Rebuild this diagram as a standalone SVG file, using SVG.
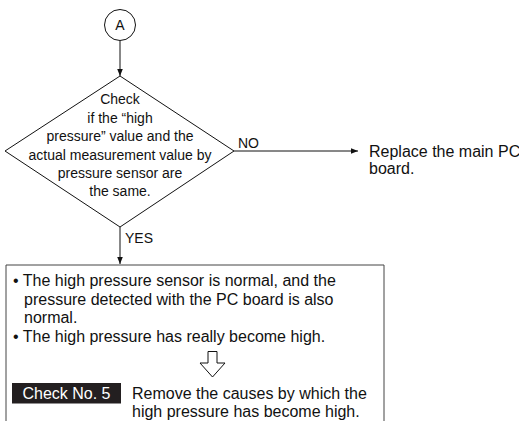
<svg xmlns="http://www.w3.org/2000/svg" width="519" height="421" viewBox="0 0 519 421">
<defs>
<style>
text{font-family:"Liberation Sans",Arial,sans-serif;font-size:14px;fill:#111}
.c{text-anchor:middle}
.b{font-size:16px}
.ln{stroke:#111;stroke-width:1;fill:none}
</style>
<marker id="ah" viewBox="0 0 10 10" refX="10" refY="5" markerWidth="7" markerHeight="7" orient="auto" markerUnits="userSpaceOnUse"><path d="M0,1 L10,5 L0,9 Z" fill="#111"/></marker>
</defs>
<rect width="519" height="421" fill="#fff"/>
<g id="connectors">
<line class="ln" x1="120" y1="41" x2="120" y2="76" marker-end="url(#ah)"/>
<line class="ln" x1="234" y1="151" x2="358" y2="151" marker-end="url(#ah)"/>
<line class="ln" x1="120" y1="227" x2="120" y2="264" marker-end="url(#ah)"/>
<text x="238" y="148">NO</text>
<text x="125" y="243">YES</text>
</g>
<g id="nodeA">
<circle class="ln" cx="120" cy="25" r="15.5"/>
<text class="c" x="120" y="30">A</text>
</g>
<g id="decision">
<polygon class="ln" points="120,76 234,151 120,227 5,151"/>
<text class="c" x="120" y="104">Check</text>
<text class="c" x="120" y="122.5">if the “high</text>
<text class="c" x="120" y="141">pressure” value and the</text>
<text class="c" x="120" y="159.5">actual measurement value by</text>
<text class="c" x="120" y="178">pressure sensor are</text>
<text class="c" x="120" y="196">the same.</text>
</g>
<g id="replace">
<text class="b" x="369" y="157">Replace the main PC</text>
<text class="b" x="369" y="174">board.</text>
</g>
<g id="result">
<path d="M6,422 V265 H384 V422" stroke="#444" stroke-width="1" fill="none"/>
<text class="b" x="13" y="286">• The high pressure sensor is normal, and the</text>
<text class="b" x="24" y="304.5">pressure detected with the PC board is also</text>
<text class="b" x="24" y="323">normal.</text>
<text class="b" x="13" y="341.5">• The high pressure has really become high.</text>
<polygon points="208,351.5 217,351.5 217,363 225,363 212.5,377 200,363 208,363" fill="#fff" stroke="#111" stroke-width="1"/>
<rect x="12" y="383" width="109" height="20.5" fill="#231f20"/>
<text class="c b" x="66.5" y="399" style="fill:#fff">Check No. 5</text>
<text class="b" x="132" y="398.5">Remove the causes by which the</text>
<text class="b" x="132" y="416.5">high pressure has become high.</text>
</g>
</svg>
